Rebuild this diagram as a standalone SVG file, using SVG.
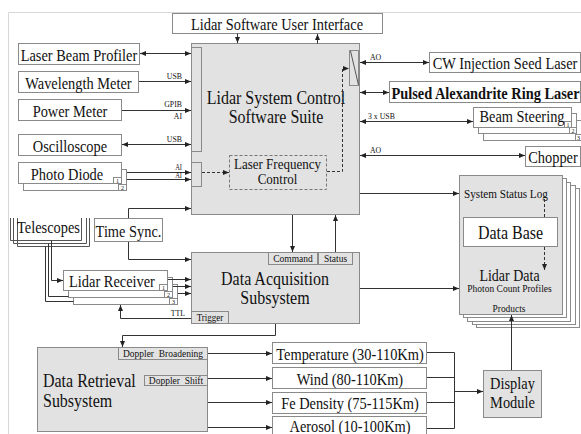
<svg xmlns="http://www.w3.org/2000/svg" width="581" height="434" viewBox="0 0 581 434" font-family="Liberation Serif, serif">
<defs>
<marker id="ah" viewBox="0 0 6 5" refX="6" refY="2.5" markerWidth="6" markerHeight="5" markerUnits="userSpaceOnUse" orient="auto-start-reverse"><path d="M0,0 L6,2.5 L0,5 z" fill="#222"/></marker>
<style>
.t{font-family:"Liberation Serif","Times New Roman",serif;fill:#111;transform-box:fill-box;transform-origin:center;transform:scaleY(1.12)}
.c{text-anchor:middle}
.m{font-size:14.4px}
.b{font-size:16px}
.s{font-size:9.5px}
.xs{font-size:7.8px}
.n{font-size:6px}
.bx{fill:#fff;stroke:#8a8a8a;stroke-width:1}
.g{fill:#e2e2e2;stroke:#8a8a8a;stroke-width:1}
.ln{fill:none;stroke:#333;stroke-width:1}
.ar{marker-end:url(#ah)}
.da{marker-start:url(#ah);marker-end:url(#ah)}
.dash{stroke-dasharray:3,2}
.fr{fill:none;stroke:#d8d8d8;stroke-width:1}
.tl{fill:none;stroke:#555;stroke-width:1}
</style>
</defs>
<rect width="581" height="434" fill="#fff"/>
<path class="fr" d="M8.5,434 V12.5 H581"/>

<g id="ui"><rect class="bx" x="172.5" y="13.5" width="210" height="20"/><text class="t m c" x="277" y="29.5">Lidar Software User Interface</text></g>

<g id="control">
<rect class="g" x="191.5" y="43.5" width="168" height="171"/>
<rect class="g" x="191.5" y="47.5" width="10" height="104"/>
<rect class="g" x="191.5" y="162.5" width="10" height="24"/>
<rect class="g" x="349.5" y="50.5" width="9" height="35"/>
<path class="tl" d="M350.5,51 L358.5,85"/>
<text class="t b c" x="276" y="103.5">Lidar System Control</text>
<text class="t b c" x="276" y="122">Software Suite</text>
</g>
<g id="lfc"><rect x="229.5" y="155.5" width="97" height="34" fill="none" stroke="#777" stroke-dasharray="3,2"/><text class="t c" style="font-size:13px" x="277.5" y="168.5">Laser Frequency</text><text class="t c" style="font-size:13px" x="277.5" y="183.5">Control</text></g>

<g id="lbp"><rect class="bx" x="18.5" y="43.5" width="121" height="21"/><text class="t m c" x="79" y="60.5">Laser Beam Profiler</text></g>
<g id="wm"><rect class="bx" x="18.5" y="71.5" width="120" height="21"/><text class="t m c" x="78.5" y="88.5">Wavelength Meter</text></g>
<g id="pm"><rect class="bx" x="18.5" y="99.5" width="103" height="21"/><text class="t m c" x="70" y="116.5">Power Meter</text></g>
<g id="osc"><rect class="bx" x="18.5" y="134.5" width="103" height="21"/><text class="t m c" x="70" y="151.5">Oscilloscope</text></g>
<g id="pd">
<rect class="bx" x="23.5" y="169.5" width="103" height="21"/>
<rect class="bx" x="118.5" y="184.5" width="8" height="6"/><text class="t n c" x="122.5" y="190">2</text>
<rect class="bx" x="18.5" y="162.5" width="103" height="21"/>
<rect class="bx" x="113.5" y="177.5" width="8" height="6"/><text class="t n c" x="117.5" y="183">1</text>
<text class="t m c" x="67" y="179.5">Photo Diode</text>
</g>

<g id="telescopes">
<path class="tl" d="M17.5,218 V246.5 H89.5 V218"/>
<path class="tl" d="M13.5,218 V243.5 H86.5 V218"/>
<path class="tl" d="M10.5,218 V240.5 H81.5 V218"/>
<text class="t m" x="17" y="232.5">Telescopes</text>
</g>
<g id="timesync"><rect class="bx" x="94.5" y="218.5" width="68" height="23"/><text class="t m c" x="128.5" y="236">Time Sync.</text></g>

<g id="receiver">
<rect class="bx" x="73.5" y="284.5" width="104" height="20"/>
<rect class="bx" x="169.5" y="298.5" width="8" height="6"/><text class="t n c" x="173.5" y="304">3</text>
<rect class="bx" x="68.5" y="277.5" width="104" height="20"/>
<rect class="bx" x="164.5" y="291.5" width="8" height="6"/><text class="t n c" x="168.5" y="297">2</text>
<rect class="bx" x="63.5" y="270.5" width="104" height="20"/>
<rect class="bx" x="159.5" y="284.5" width="8" height="6"/><text class="t n c" x="163.5" y="290">1</text>
<text class="t m c" x="112" y="286.5">Lidar Receiver</text>
</g>

<g id="daq">
<rect class="g" x="191.5" y="252.5" width="168" height="71"/>
<rect class="g" x="268.5" y="252.5" width="49" height="12"/><text class="t s c" x="293" y="262">Command</text>
<rect class="g" x="318.5" y="252.5" width="34" height="12"/><text class="t s c" x="335.5" y="262">Status</text>
<rect class="g" x="191.5" y="311.5" width="37" height="12"/><text class="t c" style="font-size:9px" x="210" y="321">Trigger</text>
<text class="t b c" x="275" y="284.5">Data Acquisition</text>
<text class="t b c" x="275" y="303">Subsystem</text>
</g>

<g id="retrieval">
<rect class="g" x="37.5" y="347.5" width="170" height="84"/>
<rect class="g" x="118.5" y="347.5" width="89" height="12"/><text class="t s c" x="163" y="357" xml:space="preserve">Doppler  Broadening</text>
<rect class="g" x="144.5" y="375.5" width="63" height="10"/><text class="t s c" x="176" y="384" xml:space="preserve">Doppler  Shift</text>
<text class="t b" x="43" y="386.5">Data Retrieval</text>
<text class="t b" x="43" y="406">Subsystem</text>
</g>

<g id="cw"><rect class="bx" x="429.5" y="52.5" width="151" height="20"/><text class="t m c" x="505" y="68.5">CW Injection Seed Laser</text></g>
<g id="pulsed"><rect class="bx" x="389.5" y="81.5" width="191" height="21"/><text class="t m c" x="485.5" y="98" font-weight="bold">Pulsed Alexandrite Ring Laser</text></g>
<g id="beam">
<rect class="bx" x="483.5" y="120.5" width="98" height="20"/>
<rect class="bx" x="575.5" y="134.5" width="6" height="6"/><text class="t n c" x="578.5" y="140">3</text>
<rect class="bx" x="478.5" y="113.5" width="98" height="20"/>
<rect class="bx" x="569.5" y="127.5" width="7" height="6"/><text class="t n c" x="573" y="133">2</text>
<rect class="bx" x="473.5" y="107.5" width="98" height="20"/>
<rect class="bx" x="564.5" y="121.5" width="7" height="6"/><text class="t n c" x="568" y="127">1</text>
<text class="t m c" x="522" y="121.5">Beam Steering</text>
</g>
<g id="chopper"><rect class="bx" x="525.5" y="146.5" width="55" height="20"/><text class="t m c" x="553" y="162">Chopper</text></g>

<g id="statuslog">
<rect class="bx" x="476.5" y="188.5" width="103" height="139"/>
<rect class="bx" x="472.5" y="185.5" width="103" height="139"/>
<rect class="bx" x="467.5" y="182.5" width="103" height="139"/>
<rect class="bx" x="463.5" y="178.5" width="103" height="139"/>
<rect class="g" x="459.5" y="175.5" width="103" height="139"/>
<text class="t" style="font-size:11.2px" x="464" y="197.5">System Status Log</text>
<rect class="bx" x="463.5" y="217.5" width="94" height="29"/>
<text class="t b c" x="510.5" y="238">Data Base</text>
<text class="t c" style="font-size:14px" x="509.5" y="280">Lidar Data</text>
<text class="t c" style="font-size:9.5px" x="509.5" y="292">Photon Count Profiles</text>
<text class="t c" style="font-size:9.4px" x="509" y="312">Products</text>
</g>

<g id="temp"><rect class="bx" x="272.5" y="342.5" width="154" height="21"/><text class="t m c" x="350" y="359.5">Temperature (30-110Km)</text></g>
<g id="wind"><rect class="bx" x="272.5" y="367.5" width="154" height="21"/><text class="t m c" x="350" y="384">Wind (80-110Km)</text></g>
<g id="fe"><rect class="bx" x="272.5" y="392.5" width="154" height="21"/><text class="t m c" x="350" y="408.5">Fe Density (75-115Km)</text></g>
<g id="aerosol"><rect class="bx" x="272.5" y="416.5" width="154" height="21"/><text class="t m c" x="350" y="431">Aerosol (10-100Km)</text></g>
<g id="display"><rect class="g" x="483.5" y="370.5" width="58" height="47"/><text class="t m c" x="512.5" y="388">Display</text><text class="t m c" x="512.5" y="407">Module</text></g>

<g id="connectors">
<path class="ln ar" d="M237.5,33.5 V43"/>
<path class="ln ar" d="M317.5,43.5 V34"/>
<path class="ln da" d="M140,53.5 H191"/>
<path class="ln ar" d="M139,81.5 H191"/>
<path class="ln ar" d="M122,110.5 H191"/>
<path class="ln da" d="M122,144.5 H191"/>
<path class="ln ar" d="M127,172.5 H191"/>
<path class="ln ar" d="M127,179.5 H191"/>
<path class="ln ar" d="M128.5,218 V208.5 H191"/>
<path class="ln ar" d="M128.5,242 V259.5 H191"/>
<path class="ln ar" d="M51.5,240.5 V280.5 H63"/>
<path class="ln" d="M48.5,243.5 V296.5 H68.5"/>
<path class="ln" d="M45.5,246.5 V301.5 H73.5"/>
<path class="ln ar" d="M168,279.5 H191"/>
<path class="ln ar" d="M173,286.5 H191"/>
<path class="ln ar" d="M178,293.5 H191"/>
<path class="ln ar" d="M191,318.5 H120.5 V305"/>
<path class="ln ar" d="M292.5,215 V252"/>
<path class="ln ar" d="M335.5,252 V215"/>
<path class="ln ar" d="M360,193.5 H459"/>
<path class="ln ar" d="M360,288.5 H459"/>
<path class="ln ar" d="M275.5,324 V335.5 H122.5 V347"/>
<path class="ln ar" d="M208,353.5 H272"/>
<path class="ln ar" d="M208,378.5 H272"/>
<path class="ln ar" d="M208,402.5 H272"/>
<path class="ln ar" d="M208,427.5 H272"/>
<path class="ln" d="M427,352.5 H454.5 V428.5 H427 M427,377.5 H454.5 M427,402.5 H454.5"/>
<path class="ln ar" d="M454.5,391.5 H483"/>
<path class="ln ar" d="M511.5,370 V315"/>
<path class="ln da" d="M360,62.5 H429"/>
<path class="ln da" d="M360,92.5 H389"/>
<path class="ln da" d="M360,121.5 H473"/>
<path class="ln da" d="M360,155.5 H525"/>
<path class="ln ar dash" d="M202,172.5 H229"/>
<path class="ln ar dash" d="M327,171.5 H342.5 V68.5 H349"/>
<path class="ln dash" d="M544.5,199 V217"/>
<path class="ln ar dash" d="M544.5,247 V270"/>
<text class="t xs" x="182" y="79" text-anchor="end">USB</text>
<text class="t xs" x="182" y="107" text-anchor="end">GPIB</text>
<text class="t xs" x="182" y="119" text-anchor="end">AI</text>
<text class="t xs" x="182" y="142" text-anchor="end">USB</text>
<text class="t" style="font-size:6.5px" x="182" y="169.5" text-anchor="end">AI</text>
<text class="t" style="font-size:6.5px" x="182" y="178" text-anchor="end">AI</text>
<text class="t xs" x="185" y="316" text-anchor="end">TTL</text>
<text class="t xs" x="370" y="60">AO</text>
<text class="t xs" x="368" y="118.5">3 x USB</text>
<text class="t xs" x="370" y="153">AO</text>
</g>
</svg>
